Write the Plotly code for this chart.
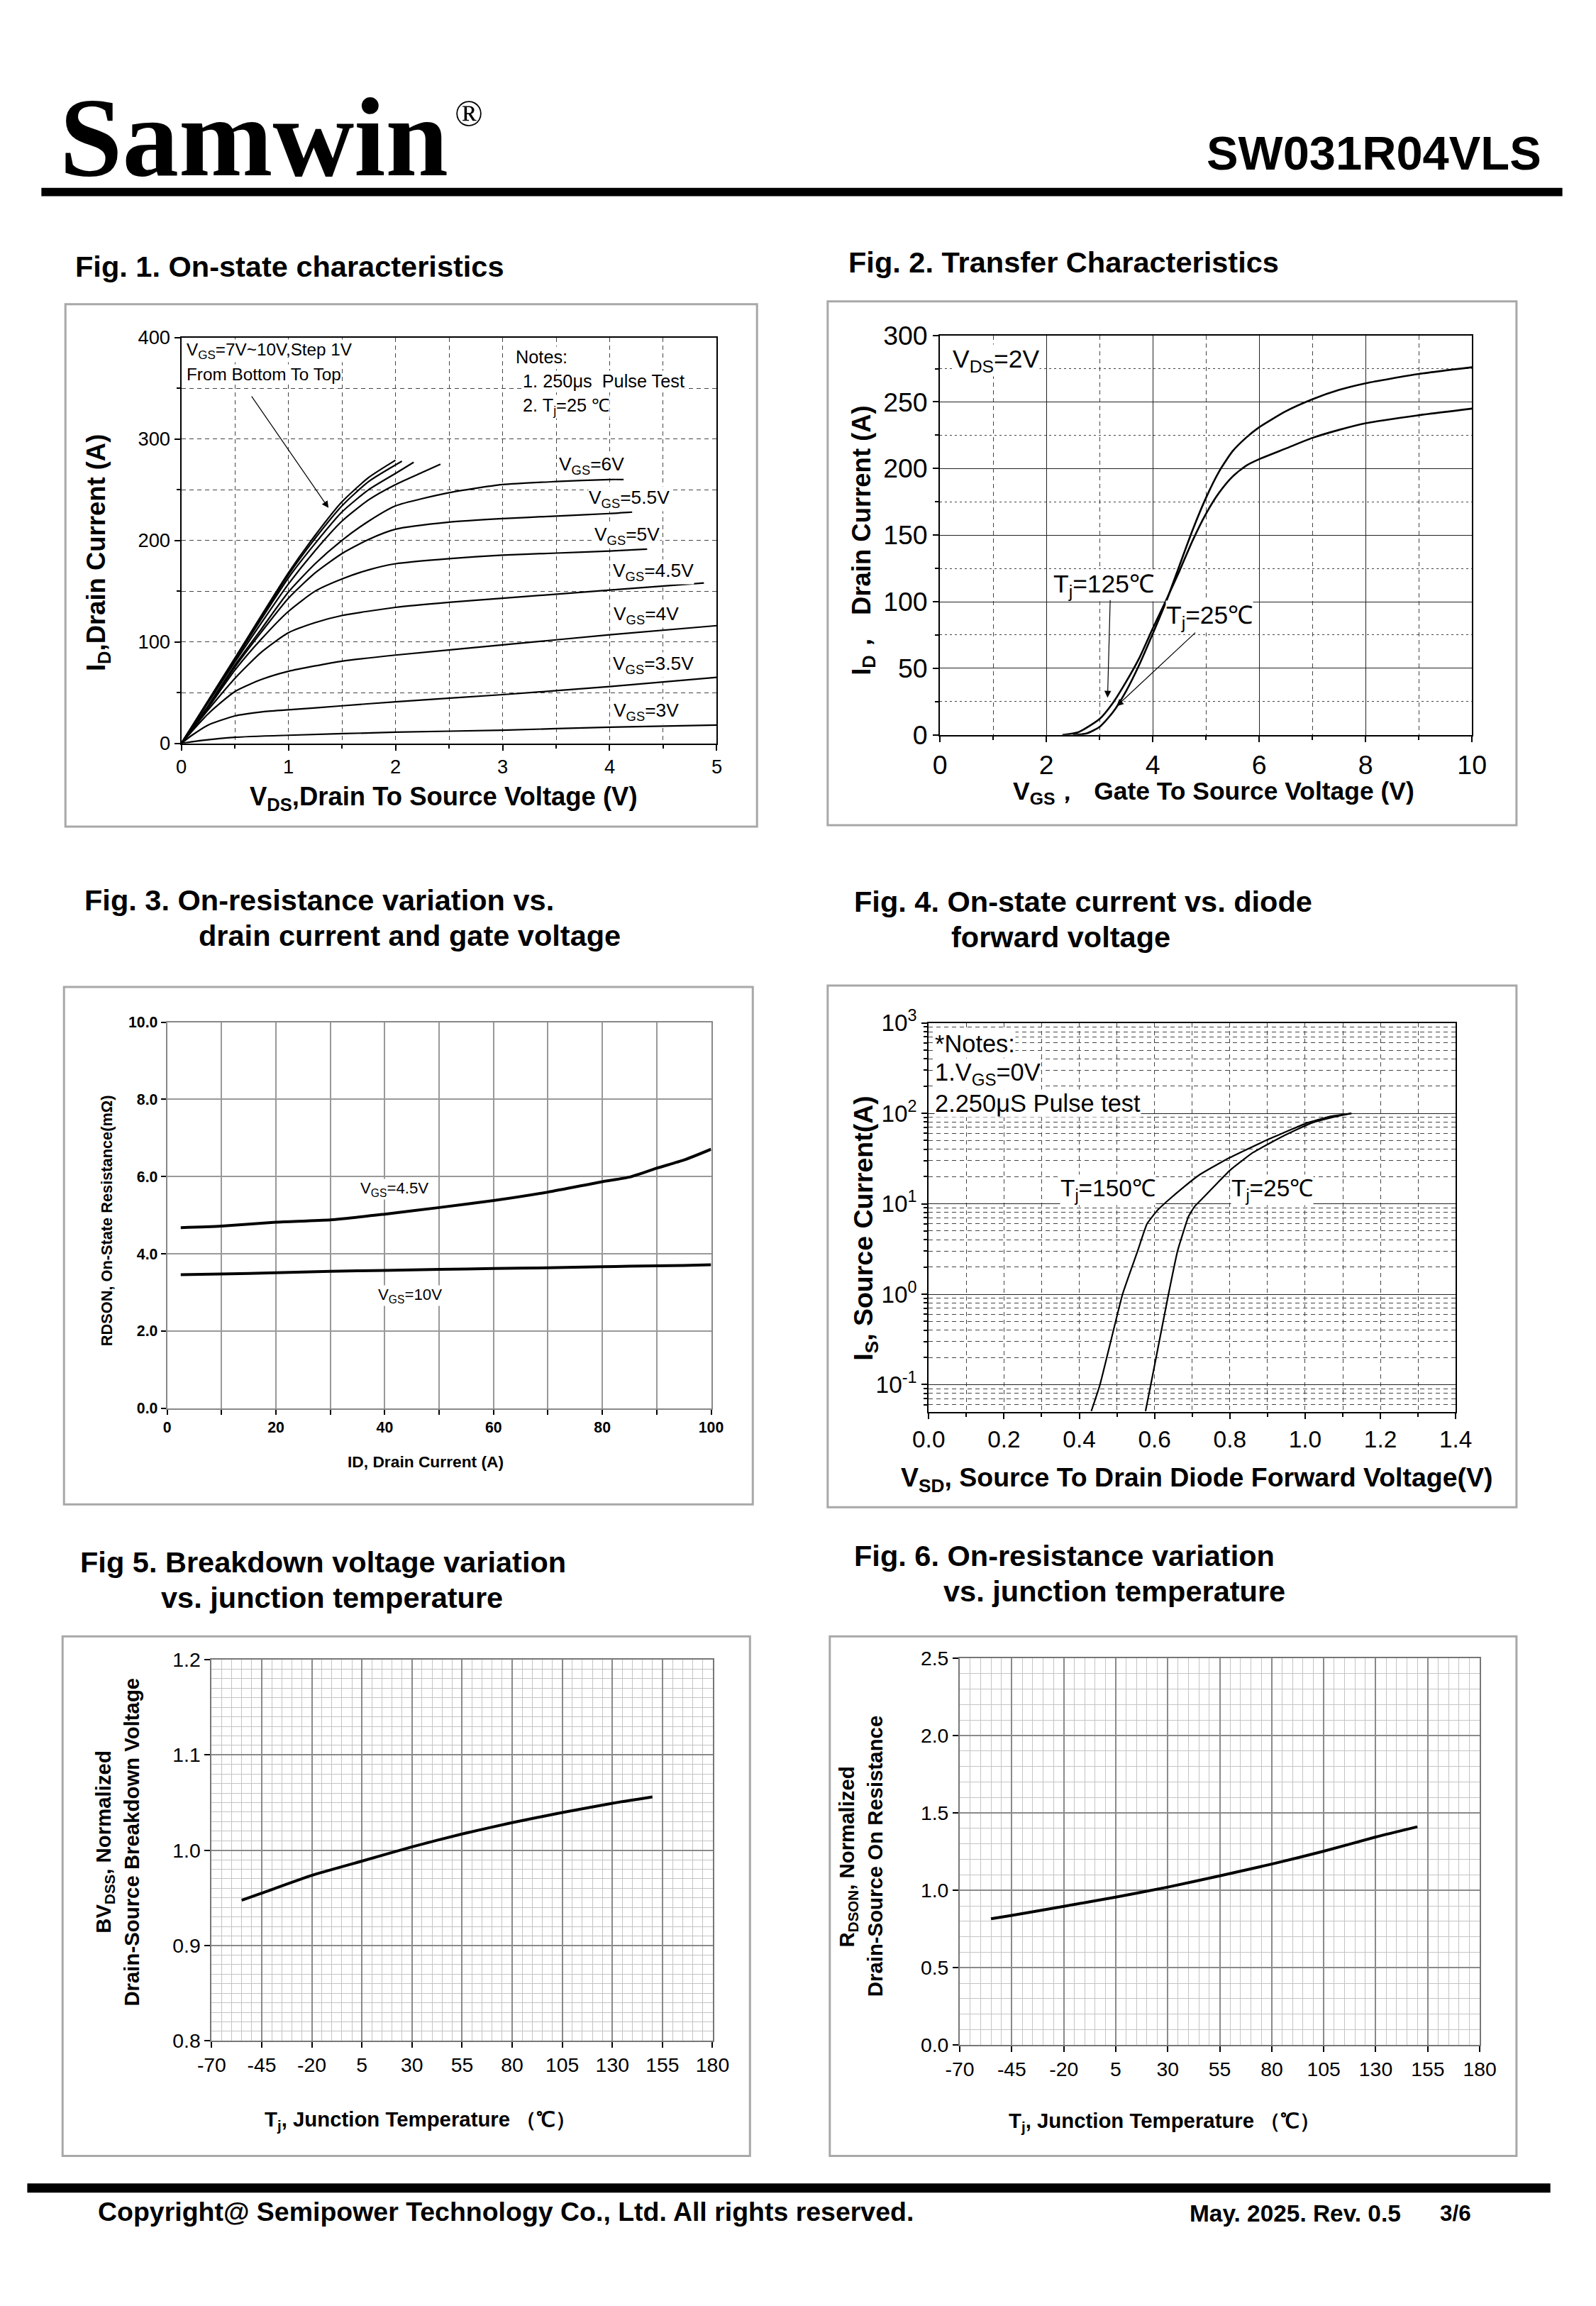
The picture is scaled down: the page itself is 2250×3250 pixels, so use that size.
import plotly.graph_objects as go

W, H = 2250, 3250
SANS = "Liberation Sans, Arial, Helvetica, sans-serif"
SERIF = "Liberation Serif, Times New Roman, serif"

# ---------------- data ----------------
# Fig 1: output characteristics (VDS [V], ID [A])
f1_vds_3v = [0, 0.2, 0.5, 1, 2, 3, 4, 5]
f1_id_3v = [0, 3, 6, 8, 11, 13, 16, 18]
f1_vds_35v = [0, 0.1, 0.25, 0.5, 0.75, 1, 1.5, 2, 3, 4, 5]
f1_id_35v = [0, 8, 18, 27, 31, 33, 37, 41, 48, 56, 65]
f1_vds_4v = [0, 0.25, 0.5, 0.75, 1, 1.5, 2, 3, 4, 5]
f1_id_4v = [0, 29, 51, 63, 71, 81, 87, 97, 107, 116]
f1_vds_45v = [0, 0.25, 0.5, 0.75, 1, 1.25, 1.5, 2, 2.5, 3, 4, 4.88]
f1_id_45v = [0, 33, 64, 90, 109, 119, 126, 134, 139, 143, 151, 158]
f1_vds_5v = [0, 0.25, 0.5, 0.75, 1, 1.25, 1.5, 1.75, 2, 2.5, 3, 3.5, 4, 4.35]
f1_id_5v = [0, 35, 72, 103, 130, 150, 162, 171, 177, 182, 185.5, 187.5, 189.5, 191.5]
f1_vds_55v = [0, 0.25, 0.5, 0.75, 1, 1.25, 1.5, 1.75, 2, 2.5, 3, 3.5, 4, 4.21]
f1_id_55v = [0, 36, 75, 110, 143, 168, 187, 201, 211, 218, 221.5, 224, 226.5, 228]
f1_vds_6v = [0, 0.25, 0.5, 0.75, 1, 1.25, 1.5, 1.75, 2, 2.5, 3, 3.5, 4, 4.13]
f1_id_6v = [0, 37, 77, 113, 149, 177, 200, 219, 234, 247, 255, 258, 260, 260]
f1_vds_7v = [0, 0.25, 0.5, 0.75, 1, 1.25, 1.5, 1.75, 2, 2.25, 2.42]
f1_id_7v = [0, 40, 80, 119, 157, 190, 219, 240, 255, 267, 275]
f1_vds_8v = [0, 0.5, 1, 1.25, 1.5, 1.75, 2, 2.17]
f1_id_8v = [0, 82, 163, 197, 228, 250, 266, 277]
f1_vds_9v = [0, 0.5, 1, 1.25, 1.5, 1.75, 2.06]
f1_id_9v = [0, 83, 166, 202, 234, 258, 278]
f1_vds_10v = [0, 0.5, 1, 1.25, 1.5, 1.75, 2.0]
f1_id_10v = [0, 84, 168, 205, 238, 262, 279]

# Fig 2: transfer characteristics (VGS [V], ID [A])
f2_vgs_25 = [2.5, 2.75, 3, 3.25, 3.5, 3.75, 4, 4.25, 4.5, 4.75, 5, 5.25, 5.5, 5.75, 6, 6.5, 7, 7.5, 8, 9, 10]
f2_id_25 = [0, 1, 6, 17, 33, 53, 76, 100, 127, 154, 178, 198, 213, 223, 231, 243, 252, 259, 264, 271, 276]
f2_vgs_125 = [2.3, 2.6, 3, 3.25, 3.5, 3.75, 4, 4.25, 4.5, 4.75, 5, 5.25, 5.5, 5.75, 6, 6.5, 7, 7.5, 8, 9, 10]
f2_id_125 = [0, 2, 12, 24, 40, 58, 80, 101, 123, 146, 166, 182, 194, 202, 207, 215, 223, 229, 234, 240, 245]

# Fig 3: RDS(on) vs ID (A, mOhm)
f3_id = [2.5, 10, 20, 30, 40, 50, 60, 70, 80, 85, 90, 95, 100]
f3_r_45v = [4.68, 4.72, 4.82, 4.88, 5.03, 5.2, 5.38, 5.6, 5.87, 5.99, 6.22, 6.43, 6.71]
f3_r_10v = [3.46, 3.48, 3.51, 3.55, 3.57, 3.6, 3.62, 3.64, 3.67, 3.68, 3.69, 3.7, 3.72]

# Fig 4: body diode (VSD [V], IS [A])
f4_vsd_150 = [0.432, 0.455, 0.515, 0.555, 0.580, 0.608, 0.637, 0.679, 0.720, 0.791, 0.904, 1.004, 1.064, 1.123]
f4_is_150 = [0.051, 0.1, 1.0, 3.0, 6.0, 8.5, 11, 15.5, 21, 31, 52, 78, 92, 100]
f4_vsd_25 = [0.576, 0.590, 0.637, 0.661, 0.690, 0.706, 0.732, 0.767, 0.803, 0.862, 0.945, 1.016, 1.075, 1.123]
f4_is_25 = [0.051, 0.1, 1.0, 3.0, 7.2, 9.3, 12, 17, 24, 37, 57, 78, 91, 100]

# Fig 5: normalized BVDSS vs Tj
f5_tj = [-55, -45, -20, 5, 30, 55, 80, 105, 130, 150]
f5_bv = [0.9475, 0.955, 0.9736, 0.9886, 1.0036, 1.0171, 1.029, 1.0396, 1.0493, 1.056]

# Fig 6: normalized RDS(on) vs Tj
f6_tj = [-55, -45, -20, 5, 30, 55, 80, 105, 130, 150]
f6_r = [0.816, 0.838, 0.897, 0.956, 1.021, 1.094, 1.170, 1.253, 1.345, 1.411]

# tick labels
f4_ytickvals = [0.1, 1, 10, 100, 1000]
f4_yticktext = ["10<sup>-1</sup>", "10<sup>0</sup>", "10<sup>1</sup>", "10<sup>2</sup>", "10<sup>3</sup>"]
f56_xtickvals = [-70, -45, -20, 5, 30, 55, 80, 105, 130, 155, 180]
f56_xticktext = ["-70", "-45", "-20", "5", "30", "55", "80", "105", "130", "155", "180"]

# ---------------- page geometry helpers ----------------
# positions below are written in reference-page pixels and mapped to page pixels
AX, SX = 26.5, 0.9831
AY, SY = 23.1, 0.9915
FS = 2.0 / (SX + SY)


def X(F):
    return (F - AX) / SX


def Y(F):
    return (F - AY) / SY


def fs(s):
    return s * FS


def dx(a, b):
    return [X(a) / W, X(b) / W]


def dy(top, bottom):
    return [1 - Y(bottom) / H, 1 - Y(top) / H]


fig = go.Figure()


def curve(x, y, n, width=2.2, smoothing=0.6):
    fig.add_trace(go.Scatter(
        x=x, y=y, xaxis="x" if n == 1 else f"x{n}", yaxis="y" if n == 1 else f"y{n}",
        mode="lines", line=dict(color="black", width=width, shape="spline", smoothing=smoothing),
        hoverinfo="skip", showlegend=False))


for xs, ys in [(f1_vds_3v, f1_id_3v), (f1_vds_35v, f1_id_35v), (f1_vds_4v, f1_id_4v),
               (f1_vds_45v, f1_id_45v), (f1_vds_5v, f1_id_5v), (f1_vds_55v, f1_id_55v),
               (f1_vds_6v, f1_id_6v), (f1_vds_7v, f1_id_7v), (f1_vds_8v, f1_id_8v),
               (f1_vds_9v, f1_id_9v), (f1_vds_10v, f1_id_10v)]:
    curve(xs, ys, 1, 2.2)
curve(f2_vgs_25, f2_id_25, 2, 2.6)
curve(f2_vgs_125, f2_id_125, 2, 2.6)
curve(f3_id, f3_r_45v, 3, 4)
curve(f3_id, f3_r_10v, 3, 4)
curve(f4_vsd_150, f4_is_150, 4, 2.2, 0.4)
curve(f4_vsd_25, f4_is_25, 4, 2.2, 0.4)
curve(f5_tj, f5_bv, 5, 4)
curve(f6_tj, f6_r, 6, 4)


def ax(domain, rng, anchor, size=27, bold=False, **kw):
    d = dict(domain=domain, range=rng, anchor=anchor, showline=True, mirror=True,
             linecolor="black", linewidth=2, ticks="outside", ticklen=8, tickwidth=1.5,
             tickcolor="black", zeroline=False, fixedrange=True,
             tickfont=dict(family=SANS, size=fs(size), color="black", weight="bold" if bold else "normal"))
    d.update(kw)
    return d


DASH = "6px,5px"
DOT = "3px,4px"

lay = {}
# Fig 1
lay["xaxis"] = ax(dx(260, 1018), [0, 5], "y", 27, tickvals=[0, 1, 2, 3, 4, 5],
                  showgrid=True, gridcolor="#444", gridwidth=1.3, griddash=DASH,
                  minor=dict(dtick=0.5, ticks="outside", ticklen=5, showgrid=True,
                             gridcolor="#444", gridwidth=1.3, griddash=DASH))
lay["yaxis"] = ax(dy(478, 1053), [0, 400], "x", 27, dtick=100,
                  showgrid=True, gridcolor="#444", gridwidth=1.3, griddash=DASH,
                  minor=dict(dtick=50, ticks="outside", ticklen=5, showgrid=True,
                             gridcolor="#444", gridwidth=1.3, griddash=DASH))
# Fig 2
lay["xaxis2"] = ax(dx(1334, 2087), [0, 10], "y2", 37, dtick=2,
                   showgrid=True, gridcolor="#222", gridwidth=1.3,
                   minor=dict(dtick=1, ticks="outside", ticklen=5, showgrid=True,
                              gridcolor="#444", gridwidth=1.3, griddash=DASH))
lay["yaxis2"] = ax(dy(475, 1041), [0, 300], "x2", 37, dtick=50,
                   showgrid=True, gridcolor="#222", gridwidth=1.3,
                   minor=dict(dtick=25, ticks="outside", ticklen=5, showgrid=True,
                              gridcolor="#444", gridwidth=1.3, griddash=DOT))
# Fig 3
lay["xaxis3"] = ax(dx(240, 1010), [0, 100], "y3", 21, True, dtick=20, linecolor="#888",
                   showgrid=True, gridcolor="#999", gridwidth=1.5, ticklen=7,
                   minor=dict(dtick=10, ticks="outside", ticklen=7, showgrid=True,
                              gridcolor="#999", gridwidth=1.5))
lay["yaxis3"] = ax(dy(1448, 1995), [0, 10], "x3", 21, True, dtick=2, tickformat=".1f",
                   linecolor="#888", showgrid=True, gridcolor="#999", gridwidth=1.5, ticklen=7)
# Fig 4
minor_log = [0.06, 0.07, 0.08, 0.09] + [k * 10 ** e for e in (-1, 0, 1, 2) for k in range(2, 10)]
lay["xaxis4"] = ax(dx(1318, 2064), [0, 1.4], "y4", 33, dtick=0.2, tickformat=".1f",
                   showgrid=True, gridcolor="#444", gridwidth=1.3, griddash=DASH,
                   minor=dict(dtick=0.1, ticks="outside", ticklen=5, showgrid=True,
                              gridcolor="#444", gridwidth=1.3, griddash=DASH))
lay["yaxis4"] = ax(dy(1449, 2000), [-1.301, 3], "x4", 33, type="log",
                   tickmode="array", tickvals=f4_ytickvals, ticktext=f4_yticktext,
                   showgrid=True, gridcolor="#222", gridwidth=1.3,
                   minor=dict(tickmode="array", tickvals=minor_log, ticks="outside", ticklen=5,
                              showgrid=True, gridcolor="#444", gridwidth=1.2, griddash=DASH))
# Fig 5
lay["xaxis5"] = ax(dx(303, 1012), [-70, 180], "y5", 28, tickvals=f56_xtickvals, ticktext=f56_xticktext,
                   linecolor="#777", showgrid=True, gridcolor="#8a8a8a", gridwidth=1.5,
                   minor=dict(dtick=5, tick0=-70, showgrid=True, gridcolor="#c4c4c4", gridwidth=1.2))
lay["yaxis5"] = ax(dy(2351, 2891), [0.8, 1.2], "x5", 28, dtick=0.1, tickformat=".1f",
                   linecolor="#777", showgrid=True, gridcolor="#8a8a8a", gridwidth=1.5,
                   minor=dict(dtick=0.01, showgrid=True, gridcolor="#c4c4c4", gridwidth=1.2))
# Fig 6
lay["xaxis6"] = ax(dx(1362, 2098), [-70, 180], "y6", 28, tickvals=f56_xtickvals, ticktext=f56_xticktext,
                   linecolor="#777", showgrid=True, gridcolor="#8a8a8a", gridwidth=1.5,
                   minor=dict(dtick=5, tick0=-70, showgrid=True, gridcolor="#c4c4c4", gridwidth=1.2))
lay["yaxis6"] = ax(dy(2349, 2897), [0, 2.5], "x6", 28, dtick=0.5, tickformat=".1f",
                   linecolor="#777", showgrid=True, gridcolor="#8a8a8a", gridwidth=1.5,
                   minor=dict(dtick=0.1, showgrid=True, gridcolor="#c4c4c4", gridwidth=1.2))


def pann(text, x, y, size, xanchor="left", yanchor="middle", family=SANS, angle=0):
    return dict(text=text, x=X(x) / W, y=1 - Y(y) / H, xref="paper", yref="paper",
                xanchor=xanchor, yanchor=yanchor, showarrow=False, textangle=angle,
                font=dict(family=family, size=fs(size), color="black"))


def dann(text, x, y, n, size, xanchor="center", bg="white"):
    return dict(text=text, x=x, y=y, xref="x" if n == 1 else f"x{n}", yref="y" if n == 1 else f"y{n}",
                xanchor=xanchor, yanchor="middle", showarrow=False, bgcolor=bg, borderpad=0,
                font=dict(family=SANS, size=fs(size), color="black"))


def arrow(n, x, y, axx, ayy):
    return dict(text="", x=x, y=y, ax=axx, ay=ayy, xref=f"x{n}" if n > 1 else "x",
                yref=f"y{n}" if n > 1 else "y", axref=f"x{n}" if n > 1 else "x",
                ayref=f"y{n}" if n > 1 else "y", showarrow=True, arrowhead=2,
                arrowsize=1.6, arrowwidth=1.2, arrowcolor="black")


anns = []
# header
anns.append(pann("<b>Samwin</b>", 86, 194, 157, family=SERIF))
anns.append(pann("®", 645, 160, 52, family=SERIF))
anns.append(pann("<b>SW031R04VLS</b>", 2187, 217, 66, xanchor="right"))
# figure titles
anns += [
    pann("<b>Fig. 1. On-state characteristics</b>", 108, 377, 41),
    pann("<b>Fig. 2. Transfer Characteristics</b>", 1202, 371, 41),
    pann("<b>Fig. 3. On-resistance variation vs.</b>", 121, 1275, 41),
    pann("<b>drain current and gate voltage</b>", 283, 1325, 41),
    pann("<b>Fig. 4. On-state current vs. diode</b>", 1210, 1277, 41),
    pann("<b>forward voltage</b>", 1348, 1327, 41),
    pann("<b>Fig 5. Breakdown voltage variation</b>", 115, 2213, 41),
    pann("<b>vs. junction temperature</b>", 229, 2263, 41),
    pann("<b>Fig. 6. On-resistance variation</b>", 1210, 2204, 41),
    pann("<b>vs. junction temperature</b>", 1337, 2254, 41),
]
# axis titles
anns += [
    pann("<b>I<sub>D</sub>,Drain Current (A)</b>", 142, 783, 36, "center", angle=-90),
    pann("<b>V<sub>DS</sub>,Drain To Source Voltage (V)</b>", 631, 1131, 36, "center"),
    pann("<b>I<sub>D</sub>，  Drain Current (A)</b>", 1225, 765, 36, "center", angle=-90),
    pann("<b>V<sub>GS</sub>，  Gate To Source Voltage (V)</b>", 1721, 1123, 35, "center"),
    pann("<b>RDSON, On-State Resistance(mΩ)</b>", 154, 1729, 21.5, "center", angle=-90),
    pann("<b>ID, Drain Current (A)</b>", 606, 2071, 22.5, "center"),
    pann("<b>I<sub>S</sub>, Source Current(A)</b>", 1229, 1740, 37, "center", angle=-90),
    pann("<b>V<sub>SD</sub>, Source To Drain Diode Forward Voltage(V)</b>", 1698, 2096, 37, "center"),
    pann("<b>BV<sub>DSS</sub>, Normalized</b>", 152, 2609, 29, "center", angle=-90),
    pann("<b>Drain-Source Breakdown Voltage</b>", 190, 2609, 29, "center", angle=-90),
    pann("<b>T<sub>j</sub>, Junction Temperature （℃）</b>", 598, 3004, 29, "center"),
    pann("<b>R<sub>DSON</sub>, Normalized</b>", 1204, 2630, 29, "center", angle=-90),
    pann("<b>Drain-Source On Resistance</b>", 1242, 2630, 29, "center", angle=-90),
    pann("<b>T<sub>j</sub>, Junction Temperature （℃）</b>", 1652, 3006, 29, "center"),
]
# footer
anns += [
    pann("<b>Copyright@ Semipower Technology Co., Ltd. All rights reserved.</b>", 140, 3133, 37),
    pann("<b>May. 2025. Rev. 0.5</b>", 1685, 3135, 33),
    pann("<b>3/6</b>", 2040, 3135, 31),
]
# Fig 1 in-plot text
anns += [
    dann("V<sub>GS</sub>=7V~10V,Step 1V", 0.04, 387, 1, 24, "left"),
    dann("From Bottom To Top", 0.04, 364, 1, 24, "left"),
    dann("Notes:", 3.115, 381, 1, 25, "left"),
    dann("1. 250μs  Pulse Test", 3.18, 357, 1, 25, "left"),
    dann("2. T<sub>j</sub>=25 ℃", 3.18, 332, 1, 25, "left"),
    dann("V<sub>GS</sub>=6V", 3.83, 274, 1, 26),
    dann("V<sub>GS</sub>=5.5V", 4.18, 241, 1, 26),
    dann("V<sub>GS</sub>=5V", 4.16, 204.5, 1, 26),
    dann("V<sub>GS</sub>=4.5V", 4.41, 169, 1, 26),
    dann("V<sub>GS</sub>=4V", 4.34, 126, 1, 26),
    dann("V<sub>GS</sub>=3.5V", 4.41, 77.5, 1, 26),
    dann("V<sub>GS</sub>=3V", 4.34, 31, 1, 26),
    arrow(1, 1.375, 232, 0.65, 343),
]
# Fig 2 in-plot text
anns += [
    dann("V<sub>DS</sub>=2V", 0.22, 281, 2, 35, "left"),
    dann("T<sub>j</sub>=125℃", 3.08, 112, 2, 35),
    dann("T<sub>j</sub>=25℃", 5.07, 89, 2, 35),
    arrow(2, 3.15, 28, 3.2, 102),
    arrow(2, 3.32, 21.6, 4.82, 77.5),
]
# Fig 3 in-plot text
anns += [
    dann("V<sub>GS</sub>=4.5V", 41.8, 5.67, 3, 22),
    dann("V<sub>GS</sub>=10V", 44.6, 2.92, 3, 22),
]
# Fig 4 in-plot text (log axis: y given as log10)
anns += [
    dann("*Notes:", 0.015, 2.77, 4, 34, "left"),
    dann("1.V<sub>GS</sub>=0V", 0.015, 2.44, 4, 34, "left"),
    dann("2.250μS Pulse test", 0.015, 2.11, 4, 34, "left"),
    dann("T<sub>j</sub>=150℃", 0.477, 1.155, 4, 33),
    dann("T<sub>j</sub>=25℃", 0.913, 1.155, 4, 33),
]


def prect(x0, y0, x1, y1, **kw):
    return dict(type="rect", xref="paper", yref="paper", x0=X(x0) / W, x1=X(x1) / W,
                y0=1 - Y(y1) / H, y1=1 - Y(y0) / H, **kw)


shapes = [
    prect(62, 266, 2215, 278, fillcolor="black", line=dict(width=0)),
    prect(42, 3093, 2198, 3106, fillcolor="black", line=dict(width=0)),
]
for (x0, y0, x1, y1) in [(96, 431, 1075, 1171), (1175, 427, 2150, 1169), (94, 1398, 1069, 2131),
                         (1175, 1396, 2150, 2135), (92, 2318, 1065, 3054), (1178, 2318, 2150, 3054)]:
    shapes.append(prect(x0, y0, x1, y1, line=dict(color="#a8a8a8", width=3),
                        fillcolor="rgba(0,0,0,0)", layer="below"))

fig.update_layout(width=W, height=H, autosize=False, margin=dict(l=0, r=0, t=0, b=0),
                  paper_bgcolor="white", plot_bgcolor="white", showlegend=False,
                  font=dict(family=SANS, color="black"), annotations=anns, shapes=shapes, **lay)

POST = ("document.documentElement.style.margin='0';document.documentElement.style.padding='0';"
        "document.body.style.margin='0';document.body.style.padding='0';document.body.style.overflow='hidden';"
        "var gd=document.getElementById('{plot_id}');gd.style.position='fixed';gd.style.left='0px';gd.style.top='0px';")
fig.write_html("out.html", config={"displayModeBar": False}, post_script=POST)
